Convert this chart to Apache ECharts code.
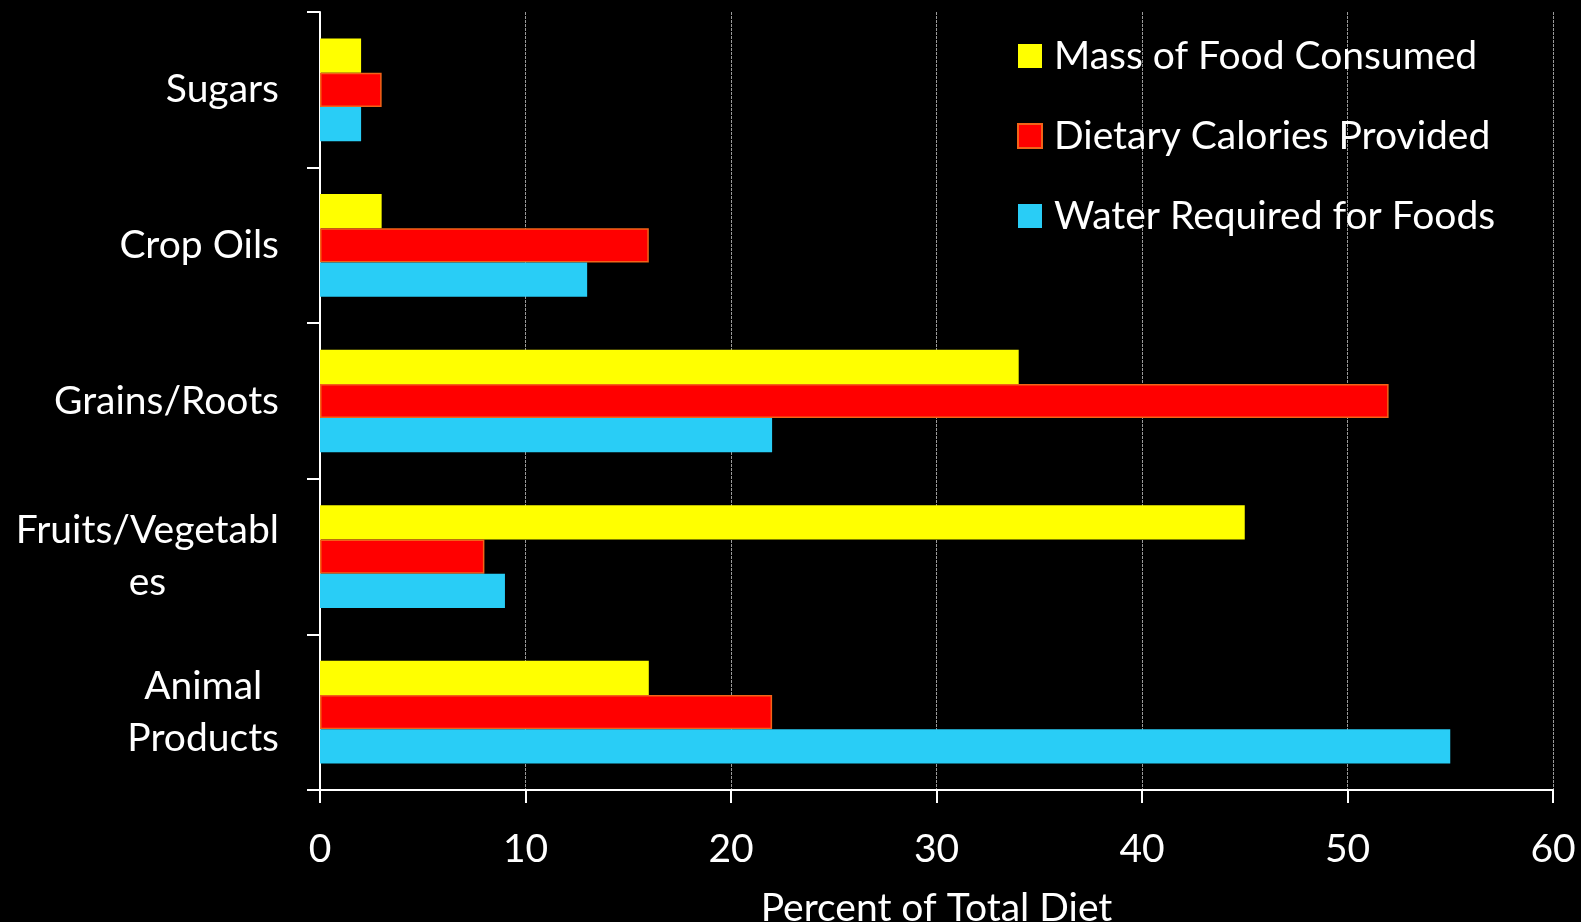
<!DOCTYPE html>
<html>
<head>
<meta charset="utf-8">
<title>Percent of Total Diet</title>
<script src="https://cdn.jsdelivr.net/npm/echarts@6/dist/echarts.min.js"></script>
<style>
  html, body { margin: 0; padding: 0; background: #000; }
  #chart { width: 1581px; height: 922px; }
</style>
</head>
<body>
<div id="chart"></div>
<script>
// Food groups, listed top to bottom
const categories = ['Sugars', 'Crop Oils', 'Grains/Roots', 'Fruits/Vegetables', 'Animal Products'];
// Category labels as they wrap beside the axis
const categoryLabels = ['Sugars', 'Crop Oils', 'Grains/Roots', 'Fruits/Vegetabl\nes', 'Animal\nProducts'];

const seriesNames = ['Mass of Food Consumed', 'Dietary Calories Provided', 'Water Required for Foods'];
const massConsumed = [2, 3, 34, 45, 16];
const caloriesProvided = [3, 16, 52, 8, 22];
const waterRequired = [2, 13, 22, 9, 55];

const xTicks = [0, 10, 20, 30, 40, 50, 60];
const xAxisTitle = 'Percent of Total Diet';

const FONT = 'Lato, "Open Sans", sans-serif';
const FS = 39;
const chart = echarts.init(document.getElementById('chart'));

chart.setOption({
  backgroundColor: '#000000',
  animation: false,
  grid: { left: 320, right: 28, top: 12, bottom: 132, containLabel: false, outerBoundsMode: 'none' },
  legend: {
    orient: 'vertical',
    left: 1017,
    top: 36,
    padding: 0,
    icon: 'rect',
    itemWidth: 24,
    itemHeight: 24,
    itemGap: 40,
    data: seriesNames,
    textStyle: { color: '#ffffff', fontSize: FS, fontFamily: FONT, lineHeight: 40, padding: [0, 0, 0, 7] }
  },
  xAxis: {
    type: 'value',
    min: xTicks[0],
    max: xTicks[xTicks.length - 1],
    interval: 10,
    name: xAxisTitle,
    nameLocation: 'middle',
    nameGap: 99,
    nameTextStyle: { color: '#ffffff', fontSize: FS, fontFamily: FONT },
    axisLine: { show: true, lineStyle: { color: '#ffffff', width: 2 } },
    axisTick: { show: true, length: 13, lineStyle: { color: '#ffffff', width: 2 } },
    axisLabel: { color: '#ffffff', fontSize: FS, fontFamily: FONT, margin: 40 },
    splitLine: { show: true, lineStyle: { color: '#999999', width: 1, type: [3, 1] } }
  },
  yAxis: {
    type: 'category',
    inverse: true,
    data: categories,
    axisLine: { show: true, lineStyle: { color: '#ffffff', width: 2 } },
    axisTick: { show: true, length: 13, alignWithLabel: false, lineStyle: { color: '#ffffff', width: 2 } },
    axisLabel: {
      margin: 41,
      color: '#ffffff',
      fontSize: FS,
      fontFamily: FONT,
      formatter: function (value, index) {
        return categoryLabels[index].split('\n').map(function (line) { return '{c|' + line + '}'; }).join('\n');
      },
      rich: {
        c: { align: 'center', color: '#ffffff', fontSize: FS, fontFamily: FONT, lineHeight: 52 }
      }
    },
    splitLine: { show: false }
  },
  series: [
    {
      name: seriesNames[0],
      type: 'bar',
      data: massConsumed,
      barCategoryGap: '34%',
      barGap: '0%',
      itemStyle: { color: '#ffff00' }
    },
    {
      name: seriesNames[1],
      type: 'bar',
      data: caloriesProvided,
      barCategoryGap: '34%',
      barGap: '0%',
      itemStyle: { color: '#ff0000', borderColor: '#f26318', borderWidth: 1.5 }
    },
    {
      name: seriesNames[2],
      type: 'bar',
      data: waterRequired,
      barCategoryGap: '34%',
      barGap: '0%',
      itemStyle: { color: '#29cdf6' }
    }
  ]
});
</script>
</body>
</html>
